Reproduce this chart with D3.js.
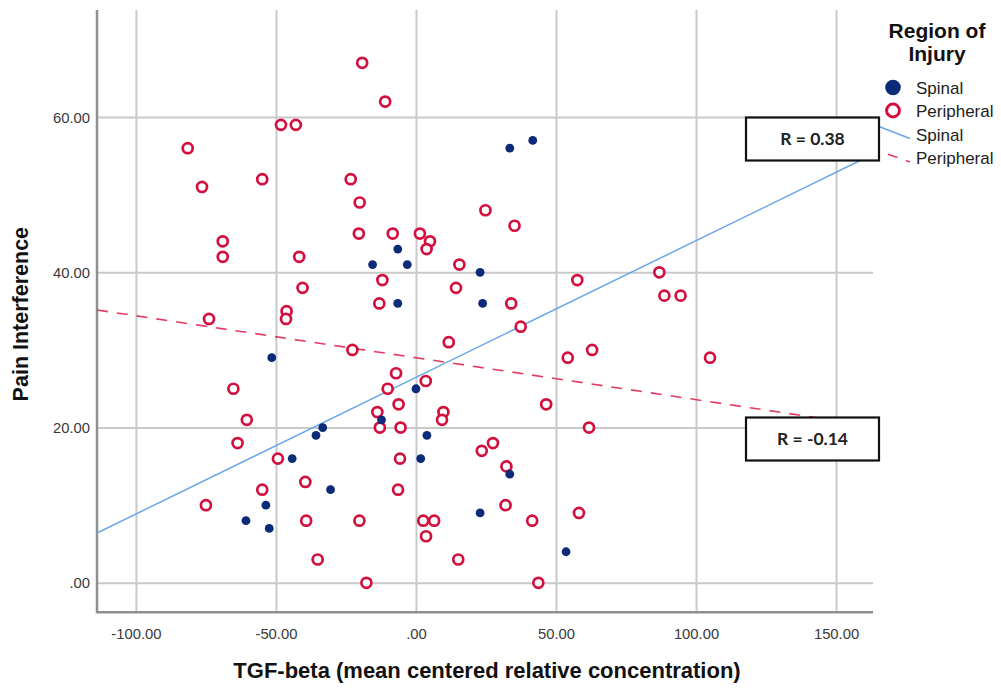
<!DOCTYPE html>
<html>
<head>
<meta charset="utf-8">
<script src="https://cdn.jsdelivr.net/npm/d3@7"></script>
<style>
  body { margin: 0; background: #fff; }
  svg text { font-family: "Liberation Sans", Arial, sans-serif; }
</style>
</head>
<body>
<div id="chart"></div>
<script>
// TGF-beta vs pain interference
var spinalX = [33.5, 41.7, -15.5, -6.5, -3.1, 22.9, -6.5, 23.8, -51.5, 0.0, -12.3, -33.3,
               -35.7, -44.2, -30.5, -53.6, -60.7, -52.4, 3.9, 1.7, 33.5, 22.9, 53.6];
var spinalY = [56, 57, 41, 43, 41, 40, 36, 36, 29, 25, 21, 20,
               19, 16, 12, 10, 8, 7, 19, 16, 14, 9, 4];

var periphX = [-19.2, -11.0, -48.2, -42.9, -81.5, -76.4, -54.9, -23.3, -20.1, 24.8, 35.2,
               -69.0, -69.0, -41.7, -20.4, -8.3, 1.4, 5.0, 3.8, 15.5, -12.0, -40.5, 14.3,
               -13.1, 34.0, 57.6, 86.9, 88.7, 94.5, -46.2, -46.4, -73.9, 37.4, 11.7, -22.7,
               62.9, 54.2, 105.0, -7.1, 3.5, -65.2, -10.1, 46.5, -60.4, -13.8, -6.2, 9.8,
               9.3, -12.9, -5.5, -63.7, 27.5, 61.8, 23.5, -49.3, -5.7, 32.3, -39.5, -54.9,
               -6.4, -75.0, 32.0, 58.2, -39.2, -20.2, 2.6, 6.5, 41.5, 3.6, -35.1, 15.1,
               -17.7, 43.7];
var periphY = [67, 62, 59, 59, 56, 51, 52, 52, 49, 48, 46,
               44, 42, 42, 45, 45, 45, 44, 43, 41, 39, 38, 38,
               36, 36, 39, 40, 37, 37, 35, 34, 34, 33, 31, 30,
               30, 29, 29, 27, 26, 25, 25, 23, 21, 22, 23, 22,
               21, 20, 20, 18, 18, 20, 17, 16, 16, 15, 13, 12,
               12, 10, 10, 9, 8, 8, 8, 8, 8, 6, 3, 3,
               0, 0];

// fit lines: [intercept, slope]
var spinalFit = [26.47, 0.1761];
var periphFit = [29.0, -0.054];
var rLabels = ["R = 0.38", "R = -0.14"];

var xTicks = [-100, -50, 0, 50, 100, 150];
var yTicks = [0, 20, 40, 60];

var width = 1001, height = 688;
var plotL = 97, plotR = 873, plotT = 10, plotB = 612.3;

var svg = d3.select("#chart").append("svg")
  .attr("width", width)
  .attr("height", height);

var x = d3.scaleLinear().domain([-113.9, 163.2]).range([plotL, plotR]);
var y = d3.scaleLinear().domain([-3.8, 73.8]).range([plotB, plotT]);

var fmt2 = d3.formatLocale({decimal: ".", thousands: ",", grouping: [3], currency: ["", ""], minus: "-"}).format(".2f");
function fmt(d) {
  return fmt2(d).replace(/^(-?)0\./, "$1.");
}

// grid + tick labels
var xAxis = svg.append("g")
  .attr("transform", "translate(0," + plotB + ")")
  .call(d3.axisBottom(x).tickValues(xTicks).tickFormat(fmt)
    .tickSizeInner(-(plotB - plotT)).tickSizeOuter(0));
xAxis.selectAll(".tick text").attr("y", 16).attr("dy", "0.71em");

var yAxis = svg.append("g")
  .attr("transform", "translate(" + plotL + ",0)")
  .call(d3.axisLeft(y).tickValues(yTicks).tickFormat(fmt)
    .tickSizeInner(-(plotR - plotL)).tickSizeOuter(0));
yAxis.selectAll(".tick text").attr("x", -7).attr("dy", "0.35em");

svg.selectAll(".tick line")
  .attr("stroke", "#c9c9c9")
  .attr("stroke-width", 2);
svg.selectAll(".tick text")
  .attr("fill", "#3a3a3a")
  .style("font-size", "14.8px");
svg.selectAll(".domain").remove();

// axis lines
svg.append("line")
  .attr("x1", plotL).attr("x2", plotL).attr("y1", plotT).attr("y2", plotB + 1)
  .attr("stroke", "#8f8f8f").attr("stroke-width", 2.5);
svg.append("line")
  .attr("x1", plotL).attr("x2", plotR).attr("y1", plotB).attr("y2", plotB)
  .attr("stroke", "#8f8f8f").attr("stroke-width", 2.5);

// fit lines
var xd = x.domain();
var line = d3.line().x(function(d) { return x(d[0]); }).y(function(d) { return y(d[1]); });

svg.append("path")
  .datum(xd.map(function(v) { return [v, spinalFit[0] + spinalFit[1] * v]; }))
  .attr("d", line)
  .attr("fill", "none")
  .attr("stroke", "#6aa6ea")
  .attr("stroke-width", 1.5);

svg.append("path")
  .datum(xd.map(function(v) { return [v, periphFit[0] + periphFit[1] * v]; }))
  .attr("d", line)
  .attr("fill", "none")
  .attr("stroke", "#e6395f")
  .attr("stroke-width", 1.6)
  .attr("stroke-dasharray", "11,9");

// points
var periph = d3.zip(periphX, periphY);
var spinal = d3.zip(spinalX, spinalY);

svg.append("g").selectAll("circle")
  .data(periph)
  .enter()
  .append("circle")
  .attr("cx", function(d) { return x(d[0]); })
  .attr("cy", function(d) { return y(d[1]); })
  .attr("r", 5)
  .attr("fill", "#fff")
  .attr("stroke", "#d30f3d")
  .attr("stroke-width", 2.7);

svg.append("g").selectAll("circle")
  .data(spinal)
  .enter()
  .append("circle")
  .attr("cx", function(d) { return x(d[0]); })
  .attr("cy", function(d) { return y(d[1]); })
  .attr("r", 4.4)
  .attr("fill", "#0b2b78");

// axis titles
svg.append("text")
  .attr("transform", "translate(28," + ((plotT + plotB) / 2 + 3) + ") rotate(-90)")
  .attr("text-anchor", "middle")
  .style("font-size", "21.5px")
  .style("font-weight", "bold")
  .attr("fill", "#111")
  .text("Pain Interference");

svg.append("text")
  .attr("x", 487)
  .attr("y", 678)
  .attr("text-anchor", "middle")
  .style("font-size", "22px")
  .style("font-weight", "bold")
  .attr("fill", "#111")
  .text("TGF-beta (mean centered relative concentration)");

// legend
var lg = svg.append("g");
lg.append("text").attr("x", 937).attr("y", 38).attr("text-anchor", "middle")
  .style("font-size", "21px").style("font-weight", "bold").attr("fill", "#111")
  .text("Region of");
lg.append("text").attr("x", 937).attr("y", 61).attr("text-anchor", "middle")
  .style("font-size", "21px").style("font-weight", "bold").attr("fill", "#111")
  .text("Injury");

lg.append("circle").attr("cx", 893).attr("cy", 87.5).attr("r", 7.8).attr("fill", "#0b2b78");
lg.append("circle").attr("cx", 893).attr("cy", 110.5).attr("r", 6.4)
  .attr("fill", "#fff").attr("stroke", "#d30f3d").attr("stroke-width", 3);

var legendLabels = ["Spinal", "Peripheral", "Spinal", "Peripheral"];
var legendBase = [94, 117, 141, 164];
lg.selectAll(".lab")
  .data(legendLabels)
  .enter()
  .append("text")
  .attr("class", "lab")
  .attr("x", 916)
  .attr("y", function(d, i) { return legendBase[i]; })
  .style("font-size", "17px")
  .attr("fill", "#222")
  .text(function(d) { return d; });

lg.append("line").attr("x1", 870).attr("y1", 123).attr("x2", 910).attr("y2", 138.5)
  .attr("stroke", "#6aa6ea").attr("stroke-width", 1.5);
lg.append("line").attr("x1", 870).attr("y1", 148).attr("x2", 910).attr("y2", 162)
  .attr("stroke", "#e6395f").attr("stroke-width", 1.6).attr("stroke-dasharray", "10,9");

// R boxes
var boxTop = [117.5, 417.5];
svg.selectAll(".rbox")
  .data(rLabels)
  .enter()
  .append("rect")
  .attr("class", "rbox")
  .attr("x", 746)
  .attr("y", function(d, i) { return boxTop[i]; })
  .attr("width", 133)
  .attr("height", 43)
  .attr("fill", "#fff")
  .attr("stroke", "#111")
  .attr("stroke-width", 2.2);

svg.selectAll(".rtext")
  .data(rLabels)
  .enter()
  .append("text")
  .attr("class", "rtext")
  .attr("x", 812.5)
  .attr("y", function(d, i) { return boxTop[i] + 27.5; })
  .attr("text-anchor", "middle")
  .style("font-family", "Lato, 'Open Sans', sans-serif")
  .style("font-size", "17.5px")
  .style("font-weight", "bold")
  .attr("fill", "#222")
  .text(function(d) { return d; });
</script>
</body>
</html>
